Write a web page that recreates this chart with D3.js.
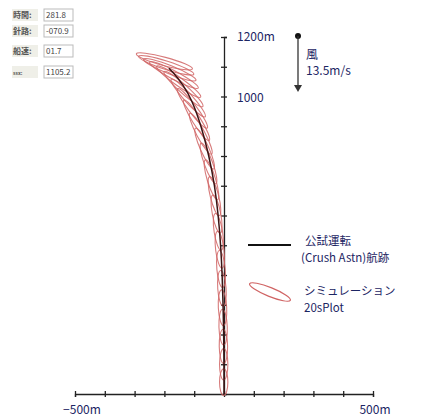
<!DOCTYPE html>
<html>
<head>
<meta charset="utf-8">
<script src="https://cdn.jsdelivr.net/npm/d3@7"></script>
<style>
  body { margin: 0; background: #fff; }
  text { font-family: 'Noto Sans CJK JP', 'Noto Sans', sans-serif; }
</style>
</head>
<body>
<div id="chart-container"></div>
<script>
// trial track (m): east offset / north distance
const trackX = [0, 0, -1, -3, -6, -11, -19, -31, -50, -76, -108, -138, -165, -185];
const trackY = [0, 100, 200, 300, 400, 500, 600, 700, 800, 900, 990, 1040, 1075, 1095];

// simulation ship outlines every 20 s: centre (m), heading (deg, 0 = north), length (m)
const simX = [-1, -1, -2, -3, -5, -7, -10, -14, -19, -25, -32, -42, -52, -65, -78, -92, -106, -120, -136, -152, -168, -182, -194, -200];
const simY = [40, 100, 160, 225, 290, 355, 420, 485, 545, 605, 665, 720, 775, 825, 875, 920, 960, 995, 1025, 1050, 1072, 1090, 1105, 1118];
const simHdg = [0, 0, -1, -2, -3, -4, -5, -7, -9, -11, -14, -17, -20, -24, -28, -32, -37, -42, -48, -55, -62, -68, -72, -75];
const simLen = [90, 105, 115, 120, 120, 120, 125, 125, 125, 130, 135, 140, 145, 150, 155, 160, 165, 170, 175, 180, 185, 190, 195, 195];

const xTicks = d3.range(-500, 501, 100);
const yTicks = d3.range(100, 1201, 100);

const infoLabels = ['時間:', '針路:', '船速:', 'ssx:'];
const infoValues = ['281.8', '-070.9', '01.7', '1105.2'];

const navy = '#1c2563';
const red = '#d06464';

const svgWidth = 424;
const svgHeight = 419;

const svg = d3
  .select('#chart-container')
  .append('svg')
  .attr('width', svgWidth)
  .attr('height', svgHeight);

const xScale = d3.scaleLinear().domain([-500, 500]).range([75, 373]);
const yScale = d3.scaleLinear().domain([0, 1200]).range([394, 37]);
const pxPerM = (xScale(100) - xScale(0)) / 100;

// x axis
const xAxis = d3.axisBottom(xScale)
  .tickValues(xTicks)
  .tickSize(3)
  .tickFormat('');
const gx = svg.append('g')
  .attr('transform', 'translate(0,' + yScale(0) + ')')
  .call(xAxis);
gx.select('.domain').attr('stroke', '#222').attr('stroke-width', 1.3);
gx.selectAll('.tick line').attr('y1', -3).attr('stroke', '#222').attr('stroke-width', 1.3);

svg.append('text').attr('x', xScale(-500) + 7).attr('y', 414)
  .attr('text-anchor', 'middle').attr('font-size', 12).attr('fill', navy).text('−500m');
svg.append('text').attr('x', xScale(500) + 2).attr('y', 414)
  .attr('text-anchor', 'middle').attr('font-size', 12).attr('fill', navy).text('500m');

// y axis
const yAxis = d3.axisRight(yScale)
  .tickValues(yTicks)
  .tickSize(3)
  .tickFormat('');
const gy = svg.append('g')
  .attr('transform', 'translate(' + xScale(0) + ',0)')
  .call(yAxis);
gy.select('.domain').attr('stroke', '#222').attr('stroke-width', 1.3);
gy.selectAll('.tick line').attr('x1', -3).attr('stroke', '#222').attr('stroke-width', 1.3);

svg.append('text').attr('x', xScale(0) + 13).attr('y', yScale(1200) + 4)
  .attr('font-size', 12).attr('fill', navy).text('1200m');
svg.append('text').attr('x', xScale(0) + 13).attr('y', yScale(1000) + 5)
  .attr('font-size', 12).attr('fill', navy).text('1000');

// simulation outlines
const sims = simX.map((x, i) => ({ x: x, y: simY[i], h: simHdg[i], len: simLen[i] }));
svg.append('g')
  .selectAll('ellipse')
  .data(sims)
  .enter()
  .append('ellipse')
  .attr('cx', 0)
  .attr('cy', 0)
  .attr('rx', 14 * pxPerM)
  .attr('ry', (d) => d.len / 2 * pxPerM)
  .attr('transform', (d) => 'translate(' + xScale(d.x) + ',' + yScale(d.y) + ') rotate(' + d.h + ')')
  .attr('fill', 'none')
  .attr('stroke', red)
  .attr('stroke-opacity', 0.85)
  .attr('stroke-width', 1.1);

// trial track
const track = trackX.map((x, i) => [x, trackY[i]]);
svg.append('path')
  .datum(track)
  .attr('d', d3.line().x((d) => xScale(d[0])).y((d) => yScale(d[1])).curve(d3.curveBasis))
  .attr('fill', 'none')
  .attr('stroke', '#3a1414')
  .attr('stroke-width', 1.5);

// wind arrow
svg.append('circle').attr('cx', 298).attr('cy', 36).attr('r', 3).attr('fill', '#111');
svg.append('line').attr('x1', 298).attr('y1', 36).attr('x2', 298).attr('y2', 88)
  .attr('stroke', '#333').attr('stroke-width', 1.3);
svg.append('path').attr('d', 'M294,85 L298,92 L302,85 Z').attr('fill', '#333');
svg.append('text').attr('x', 306).attr('y', 59).attr('font-size', 12).attr('fill', navy).text('風');
svg.append('text').attr('x', 306).attr('y', 75).attr('font-size', 12).attr('fill', navy).text('13.5m/s');

// legend
svg.append('line').attr('x1', 248).attr('y1', 245).attr('x2', 291).attr('y2', 245)
  .attr('stroke', '#111').attr('stroke-width', 2);
svg.append('text').attr('x', 305).attr('y', 245).attr('font-size', 11.5).attr('fill', navy).text('公試運転');
svg.append('text').attr('x', 301).attr('y', 262).attr('font-size', 11.5).attr('fill', navy).text('(Crush Astn)航跡');
svg.append('ellipse').attr('cx', 0).attr('cy', 0).attr('rx', 22).attr('ry', 4.5)
  .attr('transform', 'translate(270,292) rotate(22)')
  .attr('fill', 'none').attr('stroke', red).attr('stroke-width', 1.2);
svg.append('text').attr('x', 304).attr('y', 295).attr('font-size', 11.5).attr('fill', navy).text('シミュレーション');
svg.append('text').attr('x', 304).attr('y', 312).attr('font-size', 11.5).attr('fill', navy).text('20sPlot');

// info boxes
const infoY = [15, 31, 51, 72];
infoLabels.forEach(function (lab, i) {
  svg.append('rect').attr('x', 12).attr('y', infoY[i] - 6).attr('width', 26).attr('height', 12)
    .attr('fill', '#efefe8');
  svg.append('text').attr('x', 13).attr('y', infoY[i] + 3)
    .attr('font-size', i === 3 ? 5 : 8).attr('font-weight', 'bold').attr('fill', '#555').text(lab);
  svg.append('rect').attr('x', 44).attr('y', infoY[i] - 6).attr('width', 29).attr('height', 12)
    .attr('fill', '#fff').attr('stroke', '#bbb').attr('stroke-width', 1);
  svg.append('text').attr('x', 46).attr('y', infoY[i] + 3)
    .attr('font-size', 8).attr('fill', '#444').text(infoValues[i]);
});
</script>
</body>
</html>
